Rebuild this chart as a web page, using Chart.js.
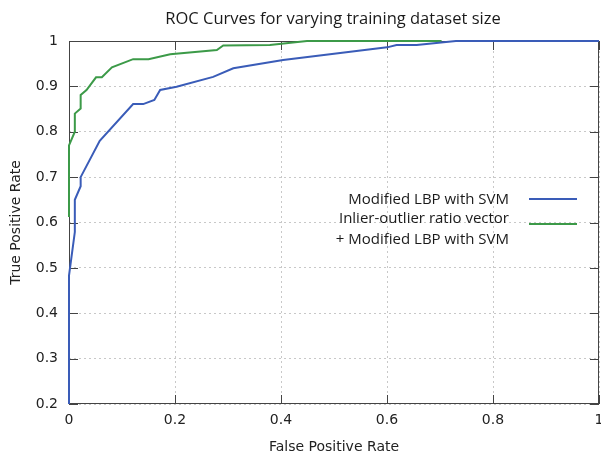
<!DOCTYPE html>
<html>
<head>
<meta charset="utf-8">
<script src="https://cdn.jsdelivr.net/npm/chart.js@4"></script>
<style>
html,body{margin:0;padding:0;background:#fff}
#wrap{width:601px;height:454px}
</style>
</head>
<body>
<div id="wrap"><canvas id="roc" width="601" height="454"></canvas></div>
<script>
// values
const fprSvm=[0,0,0.011,0.011,0.022,0.022,0.058,0.121,0.14,0.161,0.172,0.203,0.272,0.31,0.404,0.6,0.618,0.656,0.73,1]
const tprSvm=[0.2,0.483,0.579,0.65,0.68,0.70,0.78,0.861,0.861,0.87,0.892,0.899,0.921,0.94,0.958,0.986,0.991,0.991,1,1]

const fprRatio=[0,0,0.011,0.011,0.022,0.022,0.033,0.051,0.062,0.081,0.121,0.15,0.191,0.279,0.291,0.379,0.449,0.703]
const tprRatio=[0.612,0.77,0.8,0.84,0.851,0.881,0.892,0.92,0.92,0.942,0.96,0.96,0.971,0.98,0.99,0.991,1,1]

const xTicks=[0,0.2,0.4,0.6,0.8,1]
const yTicks=[0.2,0.3,0.4,0.5,0.6,0.7,0.8,0.9,1]

const seriesLabels=[["Modified LBP with SVM"],["Inlier-outlier ratio vector","+ Modified LBP with SVM"]]
const titleText="ROC Curves for varying training dataset size"

const blue="#3a5cb8"
const green="#3c9a48"
const tickFont="'DejaVu Sans', sans-serif"
const textFont="'Open Sans', 'Noto Sans', sans-serif"

function toPoints(xs,ys){
return xs.map((x,i)=>({x:x,y:ys[i]}))
}


// frame with inward + mirrored ticks (gnuplot look)
const framePlugin={
id:"frame",
beforeDatasetsDraw(chart){
const ctx=chart.ctx
const a=chart.chartArea
const sx=chart.scales.x
const sy=chart.scales.y
ctx.save()
ctx.strokeStyle="#444"
ctx.lineWidth=1
ctx.strokeRect(a.left+0.5,a.top+0.5,a.right-a.left-1,a.bottom-a.top-1)
ctx.beginPath()
xTicks.forEach(v=>{
const px=Math.round(sx.getPixelForValue(v))+0.5
ctx.moveTo(px,a.bottom);ctx.lineTo(px,a.bottom-9)
ctx.moveTo(px,a.top);ctx.lineTo(px,a.top+9)
})
yTicks.forEach(v=>{
const py=Math.round(sy.getPixelForValue(v))+0.5
ctx.moveTo(a.left,py);ctx.lineTo(a.left+9,py)
ctx.moveTo(a.right,py);ctx.lineTo(a.right-9,py)
})
ctx.stroke()
ctx.restore()
}
}


// title and right-aligned legend with the sample line after the text
const textPlugin={
id:"texts",
afterDraw(chart){
const ctx=chart.ctx
ctx.save()
ctx.fillStyle="#1a1a1a"
ctx.font="16.5px "+textFont
ctx.textAlign="center"
ctx.textBaseline="middle"
ctx.fillText(titleText,333,19)

ctx.font="15px "+textFont
ctx.textAlign="right"
const rows=[[200],[219,240]]
const lineY=[199,224]
chart.data.datasets.forEach((ds,i)=>{
seriesLabels[i].forEach((t,j)=>ctx.fillText(t,509,rows[i][j]))
ctx.strokeStyle=ds.borderColor
ctx.lineWidth=2
ctx.beginPath()
ctx.moveTo(529,lineY[i])
ctx.lineTo(577,lineY[i])
ctx.stroke()
})
ctx.restore()
}
}


new Chart(document.getElementById("roc"),{
type:"line",
data:{
datasets:[{
label:seriesLabels[0].join(" "),
data:toPoints(fprSvm,tprSvm),
borderColor:blue,
borderWidth:2,
pointRadius:0,
tension:0,
clip:4
},{
label:seriesLabels[1].join(" "),
data:toPoints(fprRatio,tprRatio),
borderColor:green,
borderWidth:2,
pointRadius:0,
tension:0,
clip:4
}]
},
options:{
responsive:false,
animation:false,
layout:{padding:{top:41,right:2,left:0,bottom:0}},
plugins:{legend:{display:false},title:{display:false},tooltip:{enabled:false}},
scales:{
x:{
type:"linear",
min:0,max:1,
afterBuildTicks:s=>{s.ticks=xTicks.map(v=>({value:v}))},
afterFit:s=>{s.height=50;s.paddingRight=0;s.paddingLeft=0},
ticks:{padding:8,color:"#222",font:{family:tickFont,size:14},callback:v=>String(v),maxRotation:0},
grid:{color:"#c8c8c8",drawTicks:false},
border:{display:false,dash:[2,3]},
title:{display:true,text:"False Positive Rate",color:"#222",font:{family:tickFont,size:14,lineHeight:1},padding:{top:0,bottom:0}}
},
y:{
type:"linear",
min:0.2,max:1,
afterBuildTicks:s=>{s.ticks=yTicks.map(v=>({value:v}))},
afterFit:s=>{s.width=69;s.paddingTop=0;s.paddingBottom=0},
ticks:{padding:11,color:"#222",font:{family:tickFont,size:14},callback:v=>String(v)},
grid:{color:"#c8c8c8",drawTicks:false},
border:{display:false,dash:[2,3]},
title:{display:true,text:"True Positive Rate",color:"#222",font:{family:tickFont,size:14,lineHeight:1},padding:{top:9,bottom:0}}
}
}
},
plugins:[framePlugin,textPlugin]
})
</script>
</body>
</html>
